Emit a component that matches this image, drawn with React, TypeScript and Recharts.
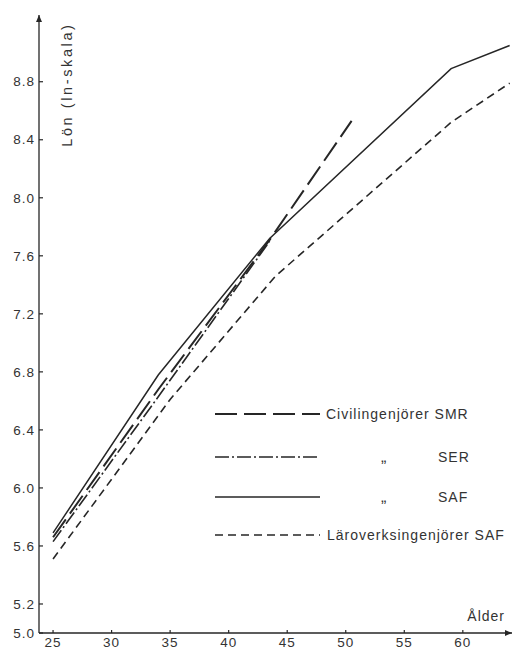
import { LineChart, Line, XAxis, YAxis, ReferenceDot } from 'recharts';

const INK = '#262626';
const FONT = '"Liberation Sans", Arial, sans-serif';

const xTicks = [25, 30, 35, 40, 45, 50, 55, 60];
const yTicks = [5.0, 5.2, 5.6, 6.0, 6.4, 6.8, 7.2, 7.6, 8.0, 8.4, 8.8];

// Civilingenjörer SMR
const smrAge = [25, 34, 43.5, 50.5];
const smrLon = [5.66, 6.68, 7.71, 8.53];
// Civilingenjörer SER
const serAge = [25, 34, 43.5];
const serLon = [5.63, 6.63, 7.7];
// Civilingenjörer SAF
const safAge = [25, 34, 43.5, 59, 64];
const safLon = [5.69, 6.78, 7.72, 8.89, 9.05];
// Läroverksingenjörer SAF
const lvAge = [25, 35, 44, 59, 64];
const lvLon = [5.51, 6.61, 7.46, 8.52, 8.79];

const legendLeft = ['Civilingenjörer SMR', '„', '„', 'Läroverksingenjörer SAF'];
const legendRight = ['', 'SER', 'SAF', ''];
const dashes = ['22 7', '14 3 2 3', undefined, '8 5'];
const widths = [2, 1.6, 1.5, 1.6];

const toRows = (ages: number[], vals: number[]) => ages.map((a, i) => ({ age: a, lon: vals[i] }));

const series = [
  toRows(smrAge, smrLon),
  toRows(serAge, serLon),
  toRows(safAge, safLon),
  toRows(lvAge, lvLon),
];

function YTick(props: any) {
  const { x, y, payload } = props;
  return (
    <g>
      <line x1={x + 4} x2={x + 8} y1={y} y2={y} stroke={INK} strokeWidth={1.2} />
      <text x={x} y={y} dy="0.35em" textAnchor="end" fontSize={13.5} letterSpacing={1} fill="#333" fontFamily={FONT}>
        {payload.value.toFixed(1)}
      </text>
    </g>
  );
}

function XTick(props: any) {
  const { x, y, payload } = props;
  return (
    <g>
      <line x1={x} x2={x} y1={y - 4} y2={y - 7} stroke={INK} strokeWidth={1.2} />
      <text x={x} y={y} dy="0.75em" textAnchor="middle" fontSize={13.5} letterSpacing={1} fill="#333" fontFamily={FONT}>
        {payload.value}
      </text>
    </g>
  );
}

function LegendBox() {
  return (
    <svg width={310} height={160} style={{ position: 'absolute', left: 210, top: 400, overflow: 'visible' }}>
      {legendLeft.map((label, i) => {
        const y = 14 + [0, 43, 83, 121][i];
        const full = legendRight[i] === '';
        return (
          <g key={i}>
            <line x1={5} x2={110} y1={y} y2={y} stroke={INK} strokeWidth={widths[i]} strokeDasharray={dashes[i]} />
            {full ? (
              <text x={i === 3 ? 117 : 116} y={y} dy="0.35em" fontSize={14} letterSpacing={1} fill="#333" fontFamily={FONT}>
                {label}
              </text>
            ) : (
              <>
                <text x={171} y={y} dy="0.3em" fontSize={16} fill="#333" fontFamily={FONT}>{label}</text>
                <text x={228} y={y} dy="0.35em" fontSize={14} letterSpacing={1} fill="#333" fontFamily={FONT}>
                  {legendRight[i]}
                </text>
              </>
            )}
          </g>
        );
      })}
    </svg>
  );
}

function RightArrow(props: any) {
  const { cx, cy } = props;
  return (
    <g>
      <path d={`M${cx - 7},${cy - 3} L${cx},${cy} L${cx - 7},${cy + 3} Z`} fill={INK} />
      <text x={cx - 7} y={cy - 12} textAnchor="end" fontSize={14} letterSpacing={1} fill="#333" fontFamily={FONT}>
        Ålder
      </text>
    </g>
  );
}

function UpArrow(props: any) {
  const { cx, cy } = props;
  return <path d={`M${cx - 3},${cy + 7} L${cx},${cy} L${cx + 3},${cy + 7} Z`} fill={INK} />;
}

function YTitle(props: any) {
  const { cx, cy } = props;
  return (
    <text
      x={cx}
      y={cy}
      transform={`rotate(-90 ${cx} ${cy})`}
      textAnchor="middle"
      dy="0.35em"
      fontSize={14.5}
      letterSpacing={2.6}
      fill="#333"
      fontFamily={FONT}
    >
      Lön (ln-skala)
    </text>
  );
}

export default function App() {
  return (
    <div style={{ position: 'absolute', left: 0, top: 0, width: 516, height: 656, background: '#fff' }}>
      <LineChart width={516} height={656} margin={{ top: 15, right: 4, bottom: 0, left: 0 }}>
        <XAxis
          type="number"
          dataKey="age"
          domain={[23.8, 64.2]}
          ticks={xTicks}
          tick={<XTick />}
          tickLine={false}
          tickSize={0}
          tickMargin={4}
          height={23}
          axisLine={{ stroke: INK, strokeWidth: 1.3 }}
          allowDataOverflow
        />
        <YAxis
          type="number"
          dataKey="lon"
          domain={[5.0, 9.26]}
          ticks={yTicks}
          tick={<YTick />}
          tickLine={false}
          tickSize={0}
          tickMargin={4}
          width={39}
          axisLine={{ stroke: INK, strokeWidth: 1.3 }}
          allowDataOverflow
        />
        {series.map((d, i) => (
          <Line
            key={i}
            data={d}
            dataKey="lon"
            type="linear"
            stroke={INK}
            strokeWidth={widths[i]}
            strokeDasharray={dashes[i]}
            dot={false}
            isAnimationActive={false}
          />
        ))}
        <ReferenceDot x={64.2} y={5.0} r={0} shape={<RightArrow />} ifOverflow="visible" />
        <ReferenceDot x={23.8} y={9.26} r={0} shape={<UpArrow />} ifOverflow="visible" />
        <ReferenceDot x={26.2} y={8.78} r={0} shape={<YTitle />} ifOverflow="visible" />
      </LineChart>
      <LegendBox />
    </div>
  );
}
